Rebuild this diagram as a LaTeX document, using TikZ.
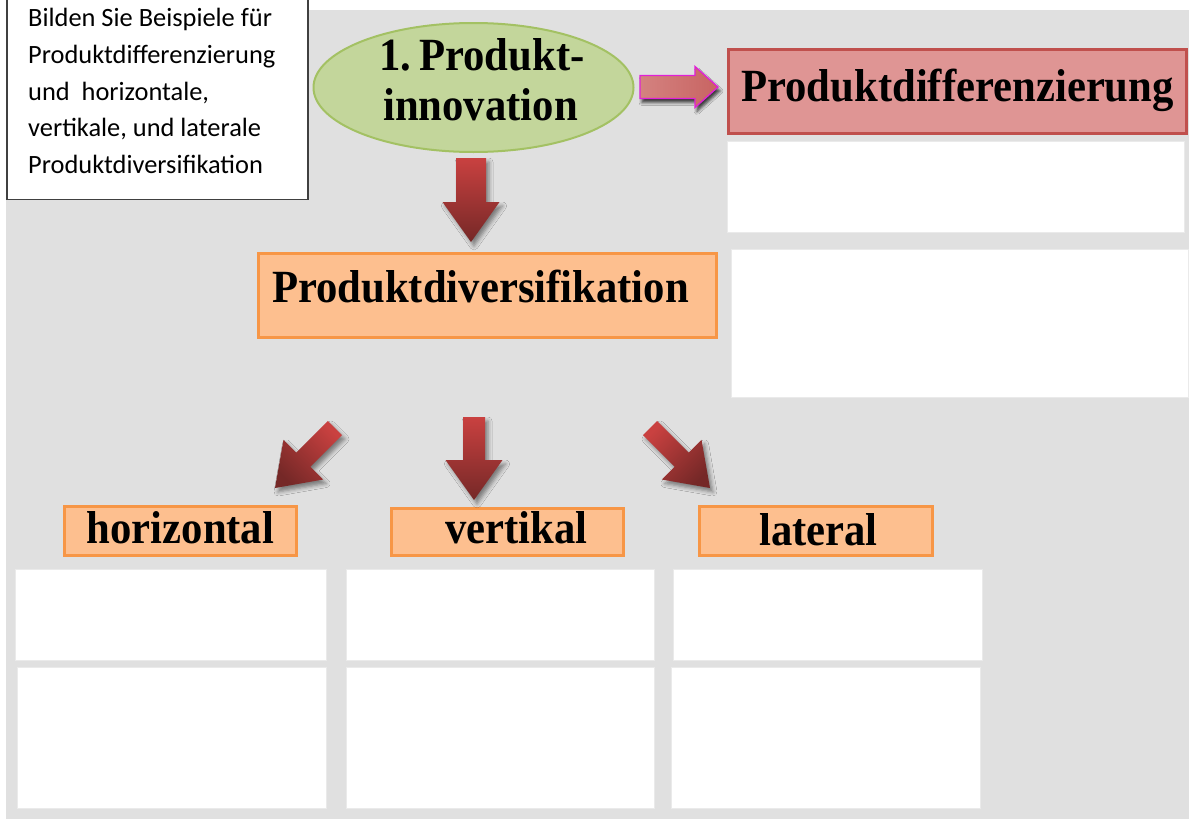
\documentclass[tikz,border=0pt]{standalone}
\usepackage{fontspec}
\usepackage{graphicx}
\setmainfont{Liberation Serif}
\newfontfamily\notefont{Carlito}
\usetikzlibrary{calc,shapes.geometric,shadows.blur}

\definecolor{bggray}{HTML}{E0E0E0}
\definecolor{leafgreen}{HTML}{C3D69B}
\definecolor{leafedge}{HTML}{A3C163}
\definecolor{rosefill}{HTML}{DF9594}
\definecolor{roseedge}{HTML}{C0504D}
\definecolor{peach}{HTML}{FDBF8F}
\definecolor{peachedge}{HTML}{F79646}
\definecolor{arrtop}{HTML}{C94140}
\definecolor{arrbot}{HTML}{752827}
\definecolor{arrlight}{HTML}{D48280}
\definecolor{arrmid}{HTML}{B3403E}
\definecolor{arrright}{HTML}{C86462}
\definecolor{glowedge}{HTML}{E020D8}
\definecolor{blankedge}{HTML}{EAEAEA}
\definecolor{noteedge}{HTML}{404040}

% slightly taller bold lettering
\newcommand\tall[1]{\scalebox{1}[1.08]{#1}}

% block arrow from tail #1 to tip #2: half shaft width #3, half head width #4,
% head length #5, drawing options #6
\newcommand\blockarrow[6]{%
  \coordinate (ha) at ($(#2)!#5!(#1)$);
  \path[#6] ($(#1)!#3!90:(#2)$) -- ($(ha)!#3!90:(#2)$) -- ($(ha)!#4!90:(#2)$)
    -- (#2) -- ($(ha)!#4!-90:(#2)$) -- ($(ha)!#3!-90:(#2)$)
    -- ($(#1)!#3!-90:(#2)$) -- cycle;
}

\tikzset{
  bigfont/.style={font=\fontsize{42.7pt}{50pt}\selectfont\bfseries},
  titlebox/.style={rectangle, inner sep=0pt, bigfont},
  peachbox/.style={titlebox, fill=peach, draw=peachedge, line width=3pt},
  rosebox/.style={titlebox, fill=rosefill, draw=roseedge, line width=3pt},
  blank/.style={fill=white, draw=blankedge, line width=0.8pt},
  arrowshadow/.style={blur shadow={shadow xshift=3pt, shadow yshift=-4pt,
      shadow blur radius=4pt, shadow opacity=45}},
  redarrow/.style={arrowshadow, top color=arrtop, bottom color=arrbot},
  notetext/.style={anchor=base west, inner sep=0pt,
      font=\notefont\fontsize{26.4pt}{30pt}\selectfont},
}

\begin{document}
\begin{tikzpicture}[x=1pt, y=-1pt]
  \useasboundingbox (0,0) rectangle (1189,819);
  % grey canvas
  \fill[bggray] (6,10) rectangle (1189,819);

  % empty answer fields
  \draw[blank] (727,141) rectangle (1184,232);
  \draw[blank] (731,249) rectangle (1188,397);
  \draw[blank] (15,569) rectangle (326,660);
  \draw[blank] (346,569) rectangle (654,660);
  \draw[blank] (673,569) rectangle (982,660);
  \draw[blank] (17,667) rectangle (326,808);
  \draw[blank] (346,667) rectangle (654,808);
  \draw[blank] (671,667) rectangle (980,808);

  % task note
  \node[rectangle, fill=white, draw=noteedge, line width=1.2pt, inner sep=0pt,
        minimum width=301pt, minimum height=204pt] (task) at (157.5,97.5) {};
  \node[notetext] (t1) at (28,27)    {Bilden Sie Beispiele für};
  \node[notetext] (t2) at (28,63.5)  {Produktdifferenzierung};
  \node[notetext] (t3) at (28,100)   {und\ \ horizontale,};
  \node[notetext] (t4) at (28,136.5) {vertikale, und laterale};
  \node[notetext] (t5) at (28,173)   {Produktdiversifikation};

  % central idea
  \node[ellipse, fill=leafgreen, draw=leafedge, line width=2pt, inner sep=0pt,
        minimum width=320pt, minimum height=129pt] (inno) at (473.5,87.5) {};
  \node[bigfont, anchor=base, inner sep=0pt] (inno1) at (482,70) {\tall{1.\hspace{0.18em}Produkt-}};
  \node[bigfont, anchor=base, inner sep=0pt] (inno2) at (480.5,120) {\tall{innovation}};

  % headings
  \node[rosebox, minimum width=458pt, minimum height=84pt, text height=19pt, text depth=0pt]
    (diff) at (957.5,91.5) {\tall{Produktdifferenzierung}};
  \node[peachbox, minimum width=458pt, minimum height=84pt, text height=13pt, text depth=0pt]
    (div) at (487.5,295.5) {\tall{Produktdiversifikation}\hspace*{14pt}};
  \node[peachbox, minimum width=232pt, minimum height=49pt, text height=24pt, text depth=0pt]
    (hor) at (180.5,531) {\tall{horizontal}};
  \node[peachbox, minimum width=232pt, minimum height=47pt, text height=22pt, text depth=0pt]
    (ver) at (507.5,532) {\hspace*{18pt}\tall{vertikal}};
  \node[peachbox, minimum width=233pt, minimum height=49pt, text height=28pt, text depth=0pt]
    (lat) at (816,531) {\hspace*{5pt}\tall{lateral}};

  % block arrows
  \coordinate (r0) at (640,87);   \coordinate (r1) at (718,87);
  \coordinate (d0) at (471,158);  \coordinate (d1) at (471,242);
  \coordinate (m0) at (474,417);  \coordinate (m1) at (474,500);
  \coordinate (l0) at (335,428);  \coordinate (l1) at (275,488);
  \coordinate (q0) at (650,428);  \coordinate (q1) at (710,488);

  \blockarrow{r0}{r1}{11.5pt}{20.5pt}{23pt}{blur shadow={shadow xshift=2pt,
      shadow yshift=-4pt, shadow blur radius=3pt, shadow opacity=75},
      left color=arrlight, middle color=arrmid, right color=arrright,
      draw=glowedge, line width=1.3pt}
  \blockarrow{d0}{d1}{15pt}{28.5pt}{40pt}{redarrow}
  \blockarrow{m0}{m1}{11pt}{28.5pt}{40pt}{redarrow}
  \blockarrow{l0}{l1}{10pt}{28pt}{40pt}{redarrow, shading angle=-45}
  \blockarrow{q0}{q1}{10pt}{28pt}{40pt}{redarrow, shading angle=45}
\end{tikzpicture}
\end{document}
